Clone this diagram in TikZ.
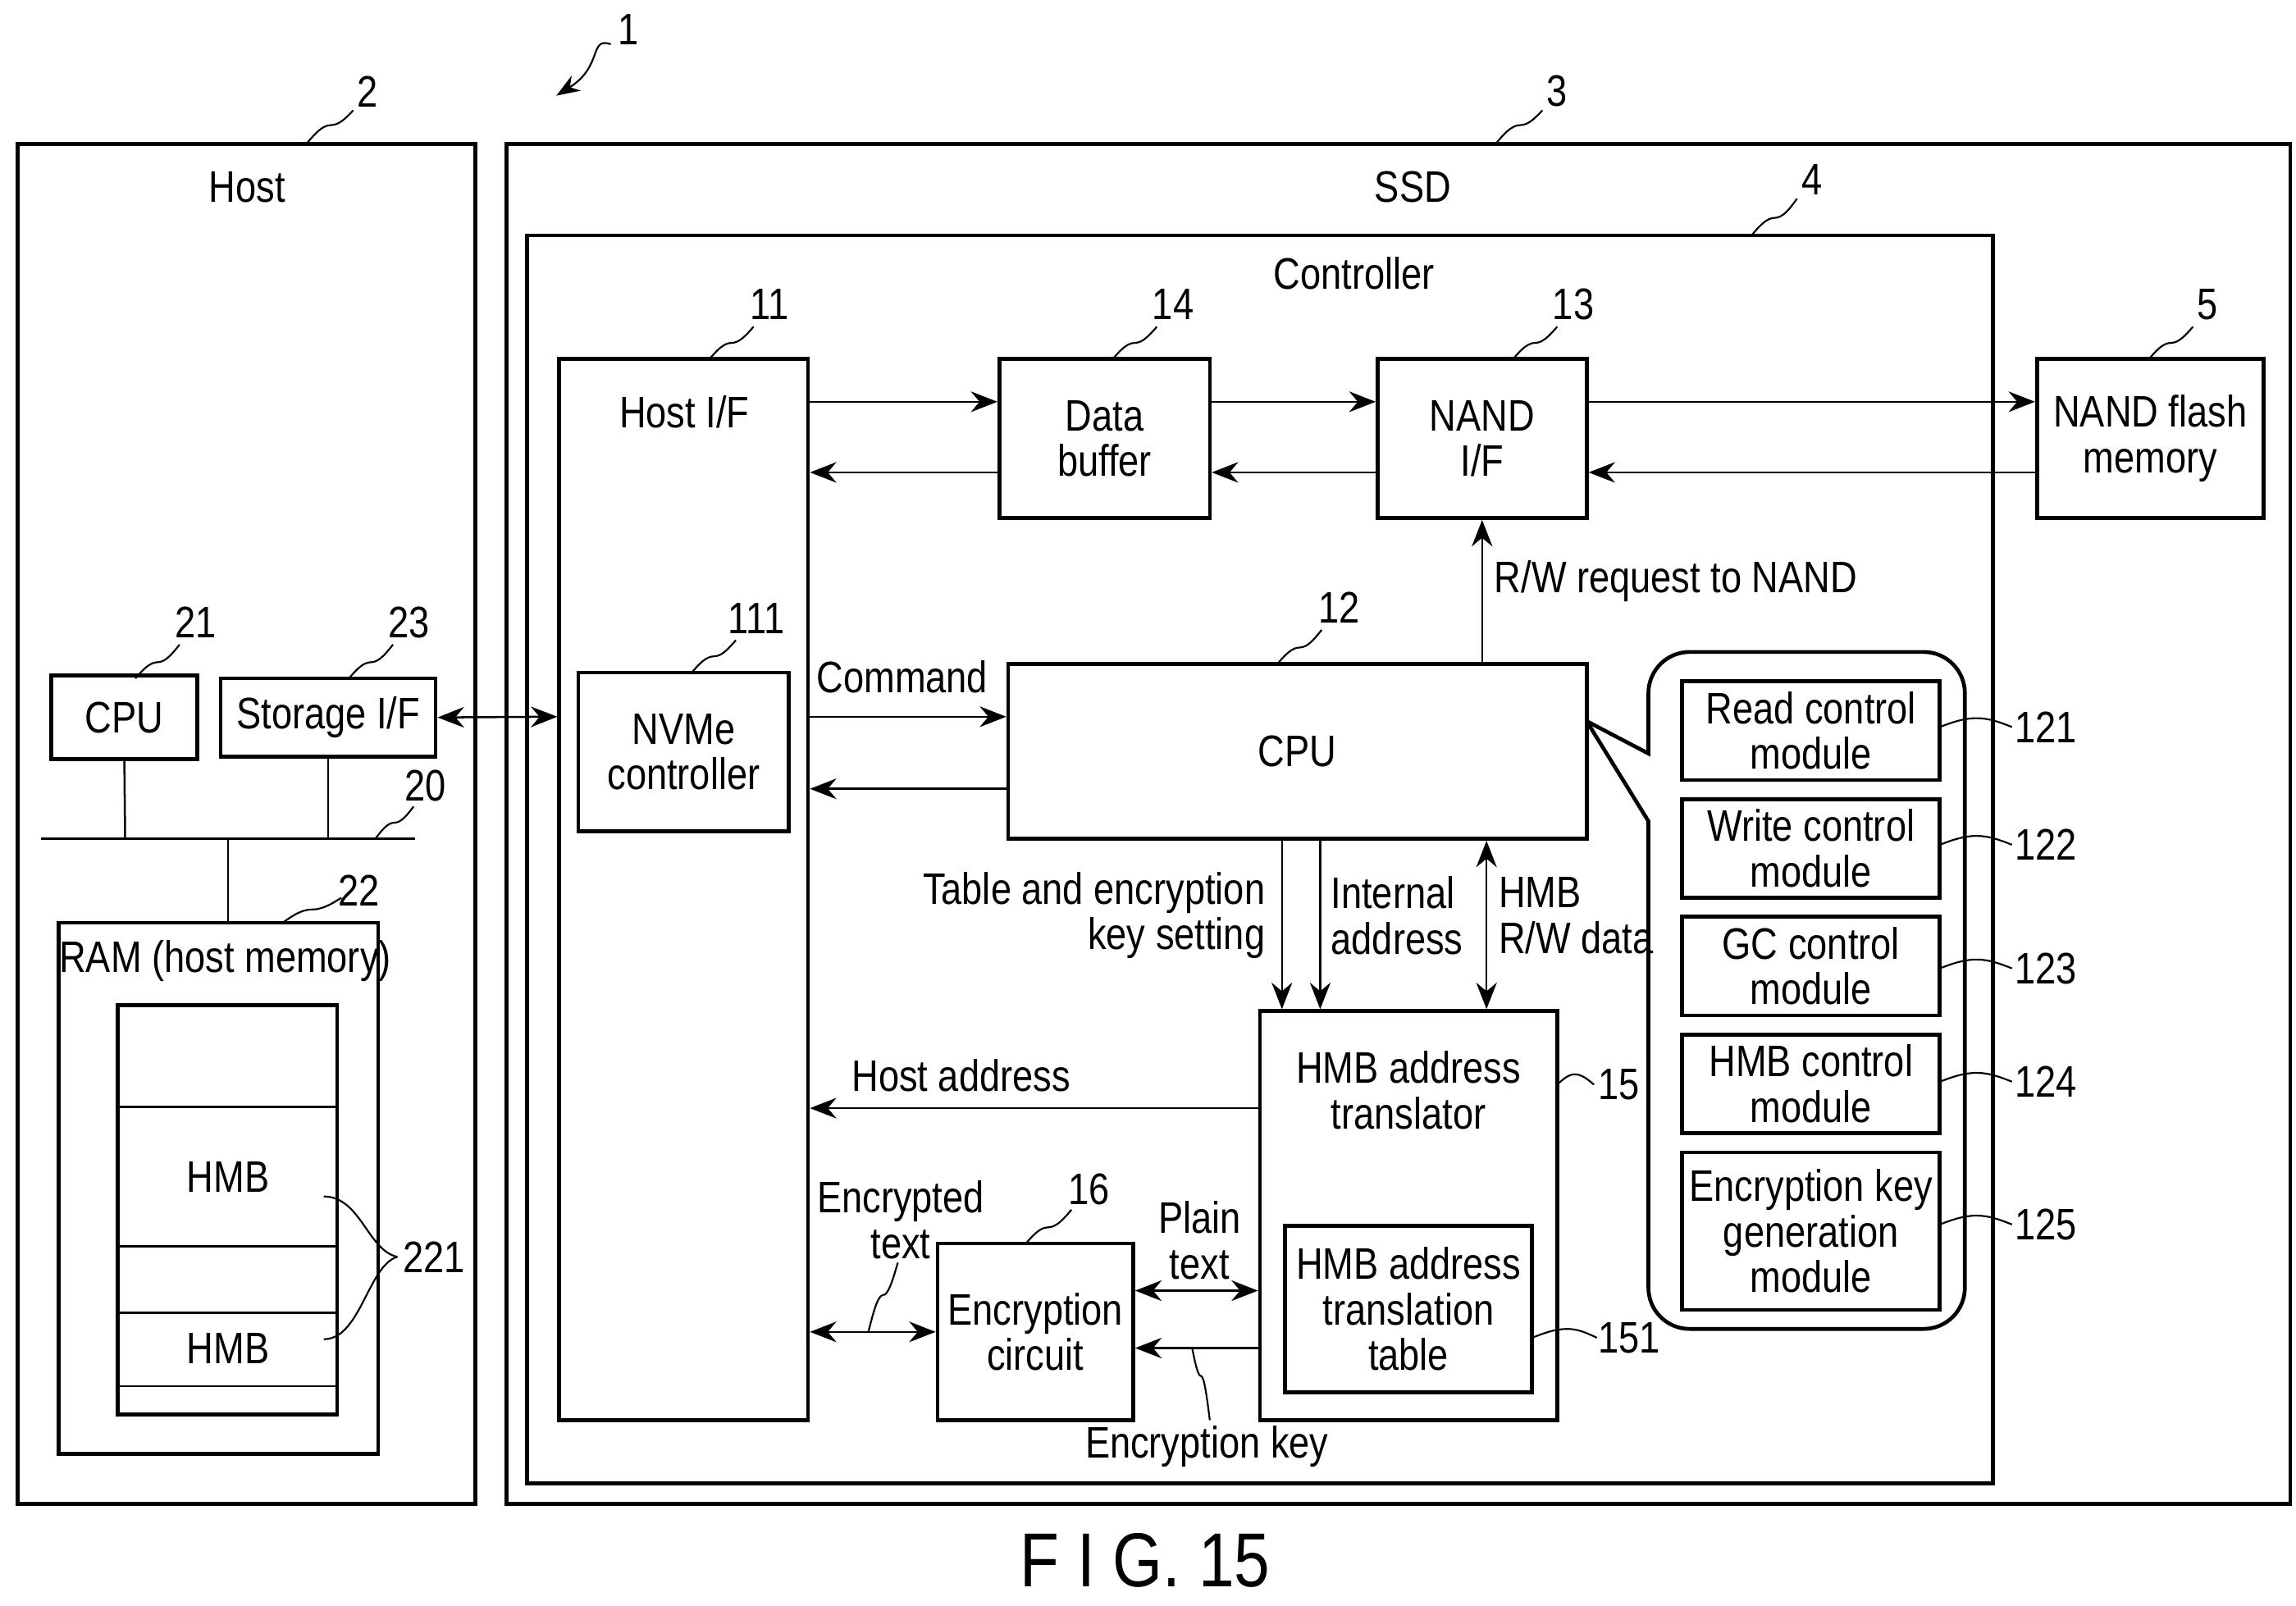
\documentclass[tikz,border=0pt]{standalone}
\usepackage{fontspec}
\setmainfont[FakeStretch=0.84]{Liberation Sans}
\usetikzlibrary{arrows.meta,fit}
\tikzset{
  box/.style={draw, line width=1.3pt, inner sep=0pt},
  thin/.style={line width=0.7pt},
  arr/.style={thin, -{Stealth[length=9pt,width=7pt]}},
  darr/.style={thin, {Stealth[length=9pt,width=7pt]}-{Stealth[length=9pt,width=7pt]}},
  lead/.style={line width=0.6pt},
  txt/.style={font=\fontsize{15}{15.5}\selectfont, align=center, inner sep=1pt},
  num/.style={font=\fontsize{15}{16}\selectfont, inner sep=1pt}
}
\begin{document}
\begin{tikzpicture}[x=0.5pt,y=0.5pt,yscale=-1]
\useasboundingbox (0,0) rectangle (1560,1091);

% outer frames
\node[box, fit={(12,98) (323,1022)}] (host) {};
\node[box, fit={(344,98) (1556,1022)}] (ssd) {};
\node[box, fit={(358,160) (1354,1008)}] (ctrl) {};
\node[txt] (hosttxt) at (168,127) {Host};
\node[txt] (ssdtxt) at (960,127) {SSD};
\node[txt] (ctrltxt) at (920,186) {Controller};

% host side
\node[box, fit={(37,461) (132,514)}, txt] (hcpu) {};
\node[txt] at (hcpu) {CPU};
\node[box, fit={(150,461) (296,514)}] (stif) {};
\node[txt] at (stif) {Storage I/F};
\node[box, fit={(40,627) (257,988)}] (ram) {};
\node[txt] (ramtxt) at (153,653) {RAM (host memory)};
\node[box, fit={(80,683) (229,961)}] (hmbcol) {};
\foreach \y in {752,847,892,942} \draw[thin] (80,\y) -- (229,\y);
\node[txt] (hmba) at (155,800) {HMB};
\node[txt] (hmbb) at (155,916) {HMB};
\draw[thin] (28,570) -- (282,570);
\draw[thin] (hcpu.south) -- (85,570);
\draw[thin] (stif.south) -- (223,570);
\draw[thin] (155,570) -- (ram.north -| 155,0);

% controller blocks
\node[box, fit={(380,244) (549,965)}] (hostif) {};
\node[txt] at (465,280) {Host I/F};
\node[box, fit={(393,457) (536,565)}] (nvme) {};
\node[txt] at (nvme) {NVMe\\controller};
\node[box, fit={(679,244) (822,352)}] (buf) {};
\node[txt] at (buf) {Data\\buffer};
\node[box, fit={(936,244) (1078,352)}] (nandif) {};
\node[txt] at (nandif) {NAND\\I/F};
\node[box, fit={(1384,244) (1538,352)}] (nand) {};
\node[txt] at (nand) {NAND flash\\memory};
\node[box, fit={(685,451) (1078,570)}] (cpu) {};
\node[txt] at (cpu) {CPU};
\node[box, fit={(856,687) (1058,965)}] (trans) {};
\node[txt] at (957,741) {HMB address\\translator};
\node[box, fit={(873,833) (1041,946)}] (table) {};
\node[txt] at (table) {HMB address\\translation\\table};
\node[box, fit={(637,845) (770,965)}] (enc) {};
\node[txt] at (enc) {Encryption\\circuit};

% module group
\draw[line width=1.3pt] (1078,490) -- (1120,512) [rounded corners=14pt] -- (1120,443) -- (1335,443) -- (1335,903) -- (1120,903) [sharp corners] -- (1120,558) -- (1078,490);
\node[box, fit={(1143,463) (1318,530)}] (rdm) {};
\node[txt] at (rdm) {Read control\\module};
\node[box, fit={(1143,543) (1318,610)}] (wrm) {};
\node[txt] at (wrm) {Write control\\module};
\node[box, fit={(1143,623) (1318,690)}] (gcm) {};
\node[txt] at (gcm) {GC control\\module};
\node[box, fit={(1143,703) (1318,770)}] (hmbm) {};
\node[txt] at (hmbm) {HMB control\\module};
\node[box, fit={(1143,783) (1318,890)}] (keym) {};
\node[txt] at (keym) {Encryption key\\generation\\module};

% connectors
\draw[darr] (stif.east) -- (hostif.west |- 0,487);
\draw[arr] (hostif.east |- 0,273) -- (buf.west |- 0,273);
\draw[arr] (buf.west |- 0,321) -- (hostif.east |- 0,321);
\draw[arr] (buf.east |- 0,273) -- (nandif.west |- 0,273);
\draw[arr] (nandif.west |- 0,321) -- (buf.east |- 0,321);
\draw[arr] (nandif.east |- 0,273) -- (nand.west |- 0,273);
\draw[arr] (nand.west |- 0,321) -- (nandif.east |- 0,321);
\draw[arr] (cpu.north -| 1007,0) -- (nandif.south -| 1007,0);
\node[txt, anchor=west] (rwreq) at (1013,395) {R/W request to NAND};
\draw[arr] (hostif.east |- 0,487) -- (cpu.west |- 0,487);
\draw[arr] (cpu.west |- 0,536) -- (hostif.east |- 0,536);
\node[txt] (cmdtxt) at (613,460) {Command};
\draw[arr] (cpu.south -| 871,0) -- (trans.north -| 871,0);
\draw[arr] (cpu.south -| 897,0) -- (trans.north -| 897,0);
\draw[darr] (cpu.south -| 1010,0) -- (trans.north -| 1010,0);
\node[txt, align=right, anchor=east] (tabtxt) at (862,622) {Table and encryption\\key setting};
\node[txt, align=left, anchor=west] (addrtxt) at (902,622) {Internal\\address};
\node[txt, align=left, anchor=west] (rwtxt) at (1016,622) {HMB\\R/W data};
\draw[arr] (trans.west |- 0,753) -- (hostif.east |- 0,753);
\node[txt] (hatxt) at (653,731) {Host address};
\draw[darr] (enc.east |- 0,877) -- (trans.west |- 0,877);
\node[txt] (pltxt) at (815,843) {Plain\\text};
\draw[arr] (trans.west |- 0,916) -- (enc.east |- 0,916);
\node[txt] (keytxt) at (820,983) {Encryption key};
\draw[lead] (810,916) sin (816,935) cos (822,965);
\draw[darr] (hostif.east |- 0,905) -- (enc.west |- 0,905);
\node[txt] (enctxt) at (612,829) {Encrypted\\text};
\draw[lead] (610,858) sin (600,880) cos (590,905);

% reference numerals
\node[num] (n1) at (427,20) {1};
\draw[lead,-{Stealth[length=8pt,width=6pt]}] (415,30) .. controls (400,25) and (410,45) .. (378,65);
\node[num] (n2) at (250,62) {2};
\draw[lead] (240,75) sin (225,85) cos (208,98);
\node[num] (n3) at (1058,62) {3};
\draw[lead] (1048,75) sin (1033,85) cos (1016,98);
\node[num] (n4) at (1231,122) {4};
\draw[lead] (1221,135) sin (1206,148) cos (1190,160);
\node[num] (n11) at (523,207) {11};
\draw[lead] (512,222) sin (497,233) cos (482,244);
\node[num] (n14) at (797,207) {14};
\draw[lead] (786,222) sin (771,233) cos (756,244);
\node[num] (n13) at (1069,207) {13};
\draw[lead] (1058,222) sin (1043,233) cos (1028,244);
\node[num] (n5) at (1500,207) {5};
\draw[lead] (1490,222) sin (1475,233) cos (1460,244);
\node[num] (n111) at (514,420) {111};
\draw[lead] (500,435) sin (485,446) cos (470,457);
\node[num] (n12) at (910,413) {12};
\draw[lead] (898,428) sin (883,440) cos (868,451);
\node[num] (n21) at (133,423) {21};
\draw[lead] (122,438) sin (107,450) cos (92,461);
\node[num] (n23) at (278,423) {23};
\draw[lead] (267,438) sin (252,450) cos (237,461);
\node[num] (n20) at (289,534) {20};
\draw[lead] (281,548) sin (268,559) cos (255,570);
\node[num] (n22) at (244,605) {22};
\draw[lead] (232,610) sin (212,618) cos (192,627);
\node[num] (n16) at (740,808) {16};
\draw[lead] (728,822) sin (712,834) cos (697,845);
\node[num] (n15) at (1100,737) {15};
\draw[lead] (1083,737) sin (1070,730) cos (1058,737);
\node[num] (n151) at (1107,909) {151};
\draw[lead] (1085,909) sin (1065,903) cos (1041,909);
\node[num] (n221) at (295,854) {221};
\draw[lead] (270,854) .. controls (250,850) and (245,813) .. (220,813);
\draw[lead] (270,854) .. controls (250,860) and (245,910) .. (220,910);
\foreach \n/\y in {121/494,122/574,123/658,124/735,125/832} {
  \node[num] (n\n) at (1390,\y) {\n};
  \draw[lead] (1367,\y) sin (1343,\y-6) cos (1318,\y);
}

% caption
\node[font=\fontsize{26}{28}\selectfont] (fig) at (778,1060) {F I G. 15};
\end{tikzpicture}
\end{document}
